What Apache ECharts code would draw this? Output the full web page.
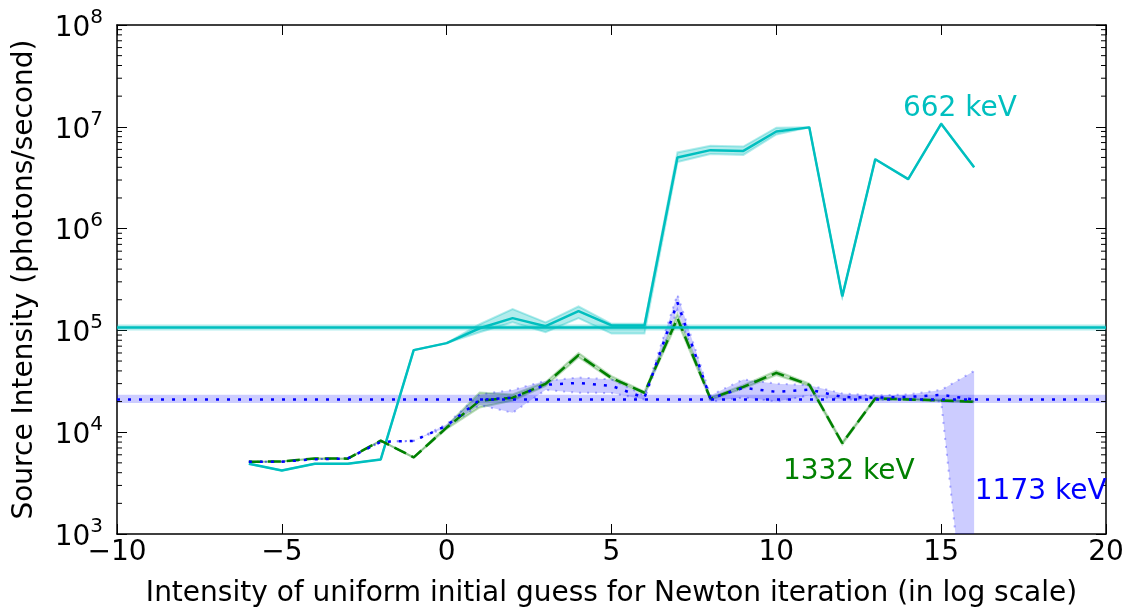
<!DOCTYPE html>
<html><head><meta charset="utf-8">
<script src="https://cdn.jsdelivr.net/npm/echarts@6/dist/echarts.min.js"></script>
<style>html,body{margin:0;padding:0;background:#fff}#c{width:1133px;height:613px}</style>
</head><body><div id="c"></div>
<script>
// ---- data ----
const xVals = [-6,-5,-4,-3,-2,-1,0,1,2,3,4,5,6,7,8,9,10,11,12,13,14,15,16];

const int662   = [4.9e3,4.2e3,4.9e3,4.9e3,5.4e3,6.4e4,7.5e4,1.05e5,1.32e5,1.1e5,1.55e5,1.12e5,1.12e5,5.0e6,5.9e6,5.8e6,9.0e6,9.87e6,2.16e5,4.8e6,3.06e6,1.07e7,4.0e6];
const int662Lo = [4.9e3,4.2e3,4.9e3,4.9e3,5.4e3,6.4e4,7.5e4,0.96e5,1.2e5,0.96e5,1.32e5,0.93e5,0.93e5,4.5e6,5.4e6,5.3e6,8.4e6,9.87e6,2.16e5,4.8e6,3.06e6,1.07e7,4.0e6];
const int662Hi = [4.9e3,4.2e3,4.9e3,4.9e3,5.4e3,6.4e4,7.5e4,1.15e5,1.62e5,1.2e5,1.72e5,1.16e5,1.16e5,5.6e6,6.5e6,6.4e6,9.8e6,9.87e6,2.16e5,4.8e6,3.06e6,1.07e7,4.0e6];

const int1332   = [5.13e3,5.15e3,5.52e3,5.5e3,8.28e3,5.65e3,1.11e4,2.04e4,2.18e4,2.98e4,5.72e4,3.41e4,2.44e4,1.32e5,2.14e4,2.79e4,3.82e4,2.92e4,7.8e3,2.14e4,2.1e4,2.05e4,1.99e4];
const int1332Lo = [5.13e3,5.15e3,5.52e3,5.5e3,8.28e3,5.65e3,1.08e4,1.75e4,2.05e4,2.85e4,5.45e4,3.3e4,2.38e4,1.22e5,2.08e4,2.7e4,3.65e4,2.85e4,7.6e3,2.1e4,2.07e4,2.02e4,1.97e4];
const int1332Hi = [5.13e3,5.15e3,5.52e3,5.5e3,8.28e3,5.65e3,1.15e4,2.45e4,2.35e4,3.1e4,6.0e4,3.55e4,2.5e4,1.45e5,2.2e4,2.9e4,4.0e4,3.0e4,8.0e3,2.18e4,2.13e4,2.08e4,2.02e4];

const int1173   = [5.13e3,5.13e3,5.43e3,5.52e3,8.04e3,8.22e3,1.16e4,2.08e4,2.18e4,2.92e4,3.05e4,2.85e4,2.18e4,1.88e5,2.14e4,2.73e4,2.49e4,2.62e4,2.22e4,2.18e4,2.22e4,2.33e4,2.09e4];
const int1173Lo = [5.13e3,5.13e3,5.43e3,5.52e3,8.04e3,8.22e3,1.12e4,1.85e4,1.55e4,2.6e4,2.44e4,2.43e4,2.1e4,1.6e5,2.0e4,2.2e4,2.0e4,2.3e4,2.1e4,2.08e4,2.1e4,2.0e4,20];
const int1173Hi = [5.13e3,5.13e3,5.43e3,5.52e3,8.04e3,8.22e3,1.2e4,2.35e4,2.6e4,3.2e4,3.45e4,3.3e4,2.3e4,2.25e5,2.3e4,3.3e4,3.0e4,2.9e4,2.4e4,2.3e4,2.35e4,2.6e4,4.0e4];

const ref662 = 1.07e5, ref662Lo = 1.0e5, ref662Hi = 1.14e5;
const ref1173 = 2.13e4, ref1173Lo = 1.94e4, ref1173Hi = 2.33e4;

const minorTickVals = [];
[1e3,1e4,1e5,1e6,1e7].forEach(d => { for (let k = 2; k <= 9; k++) minorTickVals.push(k*d); });

const labelText  = ['662 keV','1332 keV','1173 keV'];
const labelX     = [13.84, 10.2, 16.02];
const labelY     = [1.51e7, 4.05e3, 2.63e3];
const labelColor = ['#00BFBF','#008000','#0000FF'];

// ---- chart ----
const C = '#00BFBF', G = '#008000', B = '#0000FF';
const FONT = 'DejaVu Sans';
const FS = 28;
const chart = echarts.init(document.getElementById('c'));

function bandSeries(lo, hi, fill, edge, edgeDash) {
  return {
    type: 'custom', clip: true, z: 1, silent: true,
    data: [[xVals[0], lo[0]]],
    renderItem: function (params, api) {
      const top = xVals.map((x, i) => api.coord([x, hi[i]]));
      const bot = xVals.map((x, i) => api.coord([x, lo[i]]));
      const poly = top.concat(bot.slice().reverse());
      return { type: 'group', children: [
        { type: 'polygon', shape: { points: poly }, style: { fill: fill, stroke: null } },
        { type: 'polyline', shape: { points: top }, style: { fill: null, stroke: edge, lineWidth: 2, lineDash: edgeDash } },
        { type: 'polyline', shape: { points: bot }, style: { fill: null, stroke: edge, lineWidth: 2, lineDash: edgeDash } }
      ]};
    }
  };
}

function pts(arr) { return xVals.map((x, i) => [x, arr[i]]); }

const axisCommon = {
  axisLine: { show: true, onZero: false, lineStyle: { color: '#000', width: 1.5 } },
  axisTick: { show: true, inside: true, length: 10, lineStyle: { color: '#000', width: 1 } },
  splitLine: { show: false }
};

const option = {
  animation: false,
  backgroundColor: '#fff',
  grid: { left: 117, right: 27, top: 25, bottom: 76, containLabel: false },
  xAxis: [
    Object.assign({}, axisCommon, {
      type: 'value', min: -10, max: 20, interval: 5, position: 'bottom',
      axisLabel: { fontSize: FS, fontFamily: FONT, color: '#000', margin: 5,
        formatter: v => (v < 0 ? '\u2212' + Math.abs(v) : String(v)) },
      name: 'Intensity of uniform initial guess for Newton iteration (in log scale)',
      nameLocation: 'middle', nameGap: 46,
      nameTextStyle: { fontSize: FS, fontFamily: FONT, color: '#000' }
    }),
    Object.assign({}, axisCommon, {
      type: 'value', min: -10, max: 20, interval: 5, position: 'top',
      axisLabel: { show: false }
    })
  ],
  yAxis: [
    Object.assign({}, axisCommon, {
      type: 'log', logBase: 10, min: 1e3, max: 1e8, position: 'left',
      axisLabel: { fontFamily: FONT, color: '#000', margin: 14,
        formatter: v => '{b|10}{s|' + Math.round(Math.log10(v)) + '}',
        rich: {
          b: { fontSize: FS, fontFamily: FONT, color: '#000', verticalAlign: 'bottom' },
          s: { fontSize: 20, fontFamily: FONT, color: '#000', verticalAlign: 'bottom', padding: [0, 0, 15, 0] }
        } },
      name: 'Source Intensity (photons/second)',
      nameLocation: 'middle', nameGap: 78,
      nameTextStyle: { fontSize: FS, fontFamily: FONT, color: '#000' }
    }),
    Object.assign({}, axisCommon, {
      type: 'log', logBase: 10, min: 1e3, max: 1e8, position: 'right',
      axisLabel: { show: false }
    })
  ],
  series: [
    bandSeries(int662Lo, int662Hi, 'rgba(0,191,191,0.3)', 'rgba(0,191,191,0.3)', null),
    bandSeries(int1332Lo, int1332Hi, 'rgba(0,128,0,0.22)', 'rgba(0,128,0,0.25)', null),
    bandSeries(int1173Lo, int1173Hi, 'rgba(0,0,255,0.2)', 'rgba(0,0,255,0.3)', [2, 6]),
    {
      type: 'line', data: pts(int662), symbol: 'none', z: 3, silent: true,
      lineStyle: { color: C, width: 2.5 },
      markLine: { silent: true, symbol: 'none', label: { show: false },
        lineStyle: { color: C, width: 2.5, type: 'solid' }, data: [{ yAxis: ref662 }] },
      markArea: { silent: true, itemStyle: { color: 'rgba(0,191,191,0.3)' },
        data: [[{ yAxis: ref662Lo }, { yAxis: ref662Hi }]] }
    },
    {
      type: 'line', data: pts(int1332), symbol: 'none', z: 4, silent: true,
      lineStyle: { color: G, width: 2.5, type: [13, 6] }
    },
    {
      type: 'line', data: pts(int1173), symbol: 'none', z: 5, silent: true,
      lineStyle: { color: B, width: 2.5, type: [3, 8] },
      markLine: { silent: true, symbol: 'none', label: { show: false },
        lineStyle: { color: B, width: 2.5, type: [3, 8] }, data: [{ yAxis: ref1173 }] },
      markArea: { silent: true, itemStyle: { color: 'rgba(0,0,255,0.2)' },
        data: [[{ yAxis: ref1173Lo }, { yAxis: ref1173Hi }]] }
    },
    {
      type: 'custom', silent: true, clip: false, z: 10,
      data: minorTickVals.map(v => [-10, v]),
      renderItem: function (params, api) {
        const p = api.coord([api.value(0), api.value(1)]);
        const cs = params.coordSys;
        return { type: 'group', children: [
          { type: 'line', shape: { x1: cs.x, y1: p[1], x2: cs.x + 5, y2: p[1] }, style: { stroke: '#000', lineWidth: 1 } },
          { type: 'line', shape: { x1: cs.x + cs.width - 5, y1: p[1], x2: cs.x + cs.width, y2: p[1] }, style: { stroke: '#000', lineWidth: 1 } }
        ]};
      }
    },
    {
      type: 'scatter', silent: true, symbolSize: 0, z: 12,
      itemStyle: { opacity: 1 },
      data: labelX.map((x, i) => ({ value: [x, labelY[i]], label: { color: labelColor[i], opacity: 1 } })),
      label: { show: true, position: 'right', distance: 0, fontSize: FS, fontFamily: FONT, opacity: 1,
        formatter: p => labelText[p.dataIndex] }
    }
  ]
};
chart.setOption(option);
</script>
</body></html>
